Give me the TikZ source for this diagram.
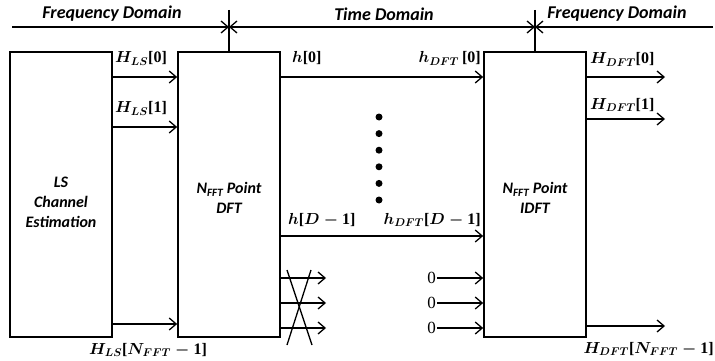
\documentclass[tikz,border=0pt]{standalone}
\usepackage{fix-cm}
\usepackage{amsmath}
\usepackage{bm}
\usepackage[no-math]{fontspec}
\newfontfamily\carl{Carlito}
\newfontfamily\zerofont{Liberation Serif}
\usetikzlibrary{arrows.meta}
\tikzset{barb/.tip={Straight Barb[length=7pt,width=12pt,line width=1.3pt]}}
\newcommand{\up}[1]{\text{\zerofont\bfseries #1}}
\newcommand{\lbr}[1]{\up{[}#1\up{]}}
\begin{document}
\begin{tikzpicture}[x=1pt,y=-1pt,
  blk/.style={draw,line width=1.6pt,minimum width=102pt,minimum height=285pt,inner sep=0pt},
  btxt/.style={font=\carl\bfseries\itshape\fontsize{16}{20}\selectfont,align=center,inner sep=0pt},
  arr/.style={line width=1.3pt,-barb},
  lnk/.style={line width=1.3pt},
  lab/.style={font=\fontsize{16}{20}\selectfont\boldmath,inner sep=0pt},
  dom/.style={font=\carl\bfseries\itshape\fontsize{18}{20}\selectfont,inner sep=0pt},
  zero/.style={font=\zerofont\fontsize{17}{20}\selectfont,inner sep=0pt},
  dot/.style={fill,circle,minimum size=7pt,inner sep=0pt}]
\useasboundingbox (0,0) rectangle (715,361);

\node[blk] (ls) at (61,194.5) {};
\node[blk] (dft) at (229,194.5) {};
\node[blk] (idft) at (535,194.5) {};
\node[btxt] (lst) at (61,202) {LS\\Channel\\Estimation};
\node[btxt] (dftt) at (229,198) {N\textsubscript{FFT} Point\\DFT};
\node[btxt] (idftt) at (535,198) {N\textsubscript{FFT} Point\\IDFT};

% top domain lines
\coordinate (fl) at (12,27);
\coordinate (tl) at (229,27);
\coordinate (tr) at (535,27);
\coordinate (fr) at (713,27);
\coordinate (v1) at (229,10);
\coordinate (v2) at (535,10);
\draw[lnk] (v1) -- (dft.north);
\draw[lnk] (v2) -- (idft.north);
\draw[arr] (fl) -- (tl);
\draw[lnk,barb-barb] (tl) -- (tr);
\draw[arr] (fr) -- (tr);
\node[dom] (d1) at (112,14) {Frequency Domain};
\node[dom] (d2) at (384,14) {Time Domain};
\node[dom] (d3) at (617,14) {Frequency Domain};

% LS -> DFT
\draw[arr] (ls.east |- 0,77) -- (dft.west |- 0,77);
\draw[arr] (ls.east |- 0,127) -- (dft.west |- 0,127);
\draw[arr] (ls.east |- 0,324) -- (dft.west |- 0,324);
\node[lab,anchor=base west] (l1) at (115,63) {$\bm{H_{LS}}\lbr{\up{0}}$};
\node[lab,anchor=base west] (l2) at (115,113) {$\bm{H_{LS}}\lbr{\up{1}}$};
\node[lab,anchor=base] (l3) at (148,354) {$\bm{H_{LS}}\lbr{\bm{N_{FFT}-}\up{1}}$};

% DFT -> IDFT
\draw[arr] (dft.east |- 0,77) -- (idft.west |- 0,77);
\draw[arr] (dft.east |- 0,236) -- (idft.west |- 0,236);
\node[lab,anchor=base west] (m1) at (292,63) {$\bm{h}\lbr{\up{0}}$};
\node[lab,anchor=base east] (m2) at (481,63) {$\bm{h_{DFT}}\,\lbr{\up{0}}$};
\node[lab,anchor=base west] (m3) at (288,224) {$\bm{h}\lbr{\bm{D-}\up{1}}$};
\node[lab,anchor=base east] (m4) at (481,224) {$\bm{h_{DFT}}\lbr{\bm{D-}\up{1}}$};
\foreach \i in {0,...,5} \node[dot] (p\i) at (379,117+16.6*\i) {};

% discarded outputs
\coordinate (c1) at (326,278);
\coordinate (c2) at (326,303);
\coordinate (c3) at (326,328);
\draw[arr] (dft.east |- c1) -- (c1);
\draw[arr] (dft.east |- c2) -- (c2);
\draw[arr] (dft.east |- c3) -- (c3);
\coordinate (x1) at (287,270);
\coordinate (x2) at (312,345);
\coordinate (x3) at (311,270);
\coordinate (x4) at (287,345);
\draw[lnk] (x1) -- (x2);
\draw[lnk] (x3) -- (x4);

% zero padding
\node[zero,anchor=east] (z1) at (436,278) {0};
\node[zero,anchor=east] (z2) at (436,303) {0};
\node[zero,anchor=east] (z3) at (436,328) {0};
\draw[arr] ([xshift=1pt]z1.east) -- (idft.west |- z1.east);
\draw[arr] ([xshift=1pt]z2.east) -- (idft.west |- z2.east);
\draw[arr] ([xshift=1pt]z3.east) -- (idft.west |- z3.east);

% IDFT outputs
\coordinate (o1) at (665,77);
\coordinate (o2) at (665,119);
\coordinate (o3) at (665,326);
\draw[arr] (idft.east |- o1) -- (o1);
\draw[arr] (idft.east |- o2) -- (o2);
\draw[arr] (idft.east |- o3) -- (o3);
\node[lab,anchor=base west] (r1) at (590,64) {$\bm{H_{DFT}}\lbr{\up{0}}$};
\node[lab,anchor=base west] (r2) at (590,109) {$\bm{H_{DFT}}\lbr{\up{1}}$};
\node[lab,anchor=base east] (r3) at (714,353) {$\bm{H_{DFT}}\lbr{\bm{N_{FFT}-}\up{1}}$};
\end{tikzpicture}
\end{document}
